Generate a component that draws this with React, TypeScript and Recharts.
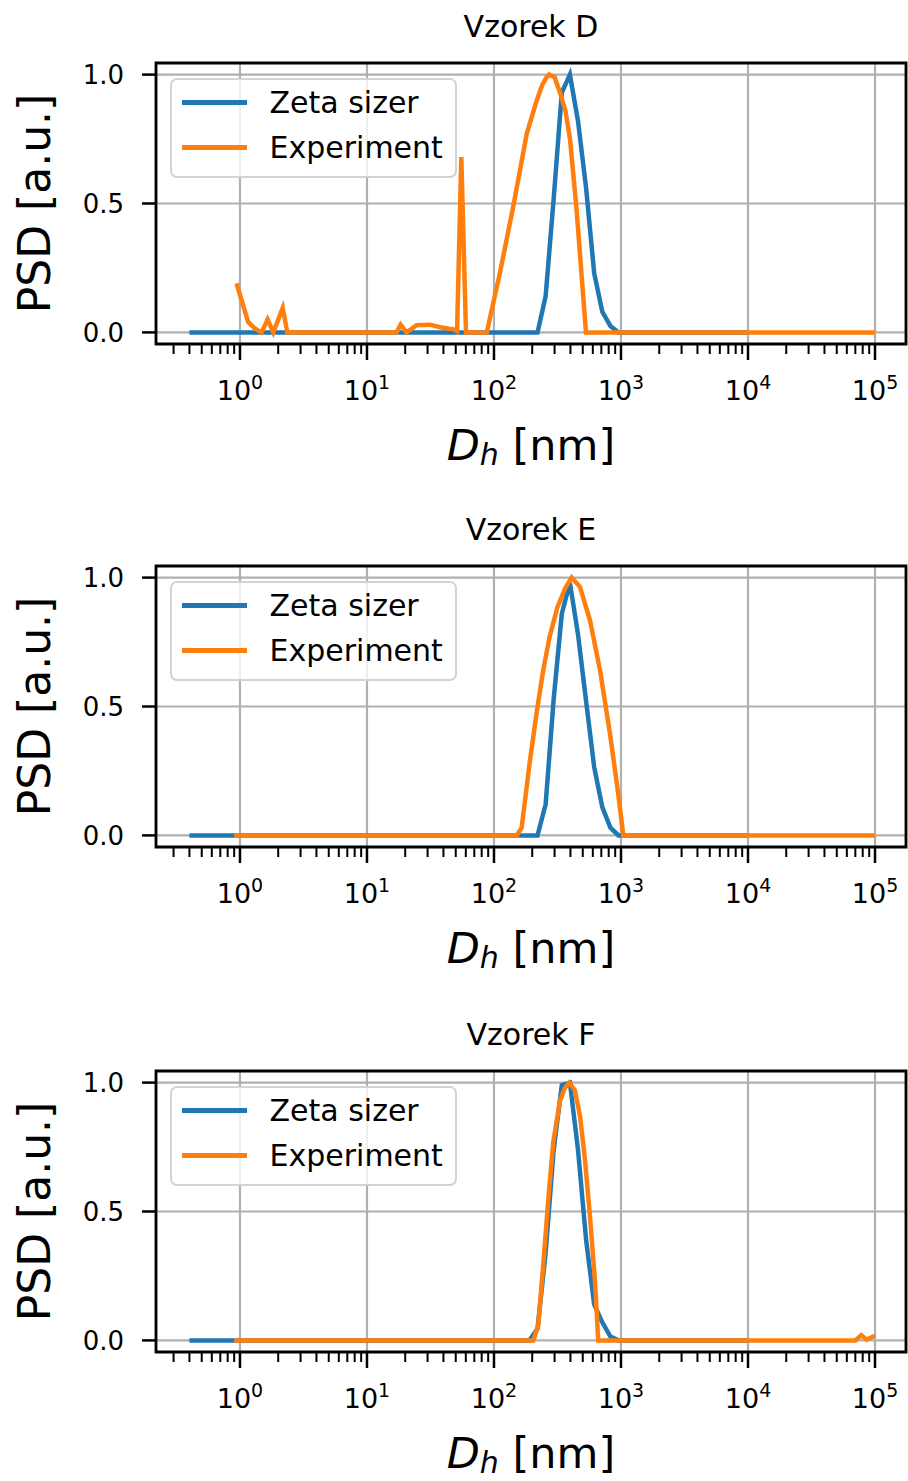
import React from 'react';
import { LineChart, Line, XAxis, YAxis, CartesianGrid, ReferenceArea, Legend, Label } from 'recharts';

const FONT = '"DejaVu Sans", sans-serif';
const BLUE = '#1f77b4';
const ORANGE = '#ff7f0e';

// Zetasizer size classes [nm]
const zetaSizes = [
  0.4, 0.4632, 0.5365, 0.6213, 0.7195, 0.8332, 0.9649, 1.117, 1.294, 1.499,
  1.736, 2.01, 2.328, 2.696, 3.122, 3.615, 4.187, 4.849, 5.615, 6.503,
  7.531, 8.721, 10.1, 11.7, 13.54, 15.69, 18.17, 21.04, 24.36, 28.21,
  32.67, 37.84, 43.82, 50.75, 58.77, 68.06, 78.82, 91.28, 105.7, 122.4,
  141.8, 164.2, 190.1, 220.2, 255.0, 295.3, 342.0, 396.1, 458.7, 531.2,
  615.1, 712.4, 825.0, 955.4, 1106, 1281, 1484, 1718, 1990, 2305,
  2669, 3091, 3580, 4145, 4801, 5560, 6439, 7456, 8635, 10000,
];

const zetaD = [
  0, 0, 0, 0, 0, 0, 0, 0, 0, 0,
  0, 0, 0, 0, 0, 0, 0, 0, 0, 0,
  0, 0, 0, 0, 0, 0, 0, 0, 0, 0,
  0, 0, 0, 0, 0, 0, 0, 0, 0, 0,
  0, 0, 0, 0, 0.14, 0.52, 0.93, 1.0, 0.82, 0.56,
  0.23, 0.08, 0.025, 0, 0, 0, 0, 0, 0, 0,
  0, 0, 0, 0, 0, 0, 0, 0, 0, 0,
];
const zetaE = [
  0, 0, 0, 0, 0, 0, 0, 0, 0, 0,
  0, 0, 0, 0, 0, 0, 0, 0, 0, 0,
  0, 0, 0, 0, 0, 0, 0, 0, 0, 0,
  0, 0, 0, 0, 0, 0, 0, 0, 0, 0,
  0, 0, 0, 0, 0.12, 0.53, 0.86, 0.98, 0.78, 0.52,
  0.265, 0.11, 0.03, 0, 0, 0, 0, 0, 0, 0,
  0, 0, 0, 0, 0, 0, 0, 0, 0, 0,
];
const zetaF = [
  0, 0, 0, 0, 0, 0, 0, 0, 0, 0,
  0, 0, 0, 0, 0, 0, 0, 0, 0, 0,
  0, 0, 0, 0, 0, 0, 0, 0, 0, 0,
  0, 0, 0, 0, 0, 0, 0, 0, 0, 0,
  0, 0, 0, 0.045, 0.34, 0.74, 0.99, 1.0, 0.74, 0.39,
  0.14, 0.07, 0.015, 0, 0, 0, 0, 0, 0, 0,
  0, 0, 0, 0, 0, 0, 0, 0, 0, 0,
];

// Experiment
const expDSize = [0.94, 1.16, 1.31, 1.48, 1.65, 1.83, 2.17, 2.36, 17.1, 18.4, 20.5, 24.6, 31.3, 37.6, 47.8, 51.2, 55.3, 60.2, 87.7, 111, 142, 181, 217, 240, 260, 272, 300, 331, 365, 397, 448, 490, 530, 100000];
const expDValue = [0.19, 0.04, 0.015, 0, 0.05, 0, 0.095, 0, 0, 0.03, 0, 0.028, 0.03, 0.02, 0.012, 0.005, 0.68, 0, 0, 0.227, 0.49, 0.77, 0.9, 0.96, 0.99, 1.0, 0.99, 0.93, 0.86, 0.75, 0.47, 0.22, 0, 0];

const expESize = [0.9, 151, 165, 192, 218, 244, 274, 316, 362, 409, 476, 570, 684, 819, 952, 1043, 100000];
const expEValue = [0, 0, 0.03, 0.29, 0.485, 0.64, 0.77, 0.885, 0.957, 1.0, 0.963, 0.834, 0.64, 0.395, 0.16, 0, 0];

const expFSize = [0.9, 204, 223, 244, 268, 293, 331, 362, 392, 434, 476, 521, 570, 624, 662, 70000, 78000, 86000, 100000];
const expFValue = [0, 0, 0.058, 0.29, 0.55, 0.77, 0.93, 0.98, 1.0, 0.97, 0.87, 0.7, 0.48, 0.23, 0, 0, 0.02, 0.003, 0.018];

const titles = ['Vzorek D', 'Vzorek E', 'Vzorek F'];
const seriesNames = ['Zeta sizer', 'Experiment'];
const majorTicks = [1, 10, 100, 1000, 10000, 100000];
const minorTicks = [
  0.3, 0.4, 0.5, 0.6, 0.7, 0.8, 0.9,
  2, 3, 4, 5, 6, 7, 8, 9,
  20, 30, 40, 50, 60, 70, 80, 90,
  200, 300, 400, 500, 600, 700, 800, 900,
  2000, 3000, 4000, 5000, 6000, 7000, 8000, 9000,
  20000, 30000, 40000, 50000, 60000, 70000, 80000, 90000,
];
const yTicks = [0, 0.5, 1];

const X_DOMAIN: [number, number] = [0.2182, 175400];
const Y_DOMAIN: [number, number] = [-0.045, 1.045];

const PLOT_TOP = 63;
const PLOT_H = 281;
const AXIS_H = 1;
const MAJOR_LEN = 16;
const MINOR_LEN = 9;

const renderMajorTick = (props: any) => {
  const { x, y, payload } = props;
  const exp = Math.round(Math.log10(payload.value));
  return (
    <g>
      <line x1={x} x2={x} y1={y} y2={y + MAJOR_LEN} stroke="#000" strokeWidth={2.5} />
      <text x={x} y={y + 56} textAnchor="middle" fontFamily={FONT} fontSize={27} fill="#000">
        <tspan>10</tspan>
        <tspan dy={-11} fontSize={19}>{exp}</tspan>
      </text>
    </g>
  );
};

const renderMinorTick = (props: any) => {
  const { x, y } = props;
  return <line x1={x} x2={x} y1={y} y2={y + MINOR_LEN} stroke="#000" strokeWidth={2} />;
};

const renderXLabel = (props: any) => {
  const vb = props.viewBox;
  return (
    <text x={vb.x + vb.width / 2} y={vb.y + 116} textAnchor="middle" fontFamily={FONT} fontSize={43} fill="#000">
      <tspan fontStyle="italic">D</tspan>
      <tspan fontStyle="italic" fontSize={30} dy={5}>h</tspan>
      <tspan dy={-5}>{' [nm]'}</tspan>
    </text>
  );
};

const renderYLabel = (props: any) => {
  const vb = props.viewBox;
  const cx = 50;
  const cy = vb.y + vb.height / 2;
  return (
    <text x={cx} y={cy} textAnchor="middle" fontFamily={FONT} fontSize={44} fill="#000" transform={`rotate(-90 ${cx} ${cy})`}>
      PSD [a.u.]
    </text>
  );
};

const LegendBox = () => (
  <div
    style={{
      width: 287,
      height: 100,
      boxSizing: 'border-box',
      border: '2.5px solid #d3d3d3',
      borderRadius: 7,
      background: 'rgba(255,255,255,0.8)',
      fontFamily: FONT,
    }}
  >
    {seriesNames.map((name, i) => (
      <div key={name} style={{ height: 45, display: 'flex', alignItems: 'center' }}>
        <div style={{ marginLeft: 9.5, width: 65, height: 4.5, background: i === 0 ? BLUE : ORANGE }} />
        <div style={{ marginLeft: 23, fontSize: 30, lineHeight: '45px', color: '#000', whiteSpace: 'nowrap' }}>{name}</div>
      </div>
    ))}
  </div>
);

function Panel({ title, zeta, expX, expY, top, height }: any) {
  const zetaData = zetaSizes.map((x, i) => ({ x, y: zeta[i] }));
  const expData = expX.map((x: number, i: number) => ({ x, y: expY[i] }));
  return (
    <div style={{ position: 'absolute', left: 0, top, width: 908, height }}>
      <LineChart
        width={908}
        height={height}
        margin={{ top: PLOT_TOP, right: 2, bottom: height - PLOT_TOP - PLOT_H - 2 * AXIS_H, left: 0 }}
      >
        <CartesianGrid stroke="#b0b0b0" strokeWidth={2.2} />
        <XAxis
          dataKey="x"
          type="number"
          scale="log"
          domain={X_DOMAIN}
          allowDataOverflow
          ticks={majorTicks}
          interval={0}
          height={AXIS_H}
          axisLine={false}
          tickSize={0}
          tickMargin={0}
          tickLine={false}
          tick={renderMajorTick}
        >
          <Label content={renderXLabel} />
        </XAxis>
        <XAxis
          xAxisId="minor"
          dataKey="x"
          type="number"
          scale="log"
          domain={X_DOMAIN}
          allowDataOverflow
          ticks={minorTicks}
          interval={0}
          height={AXIS_H}
          axisLine={false}
          tickSize={0}
          tickMargin={0}
          tickLine={false}
          tick={renderMinorTick}
        />
        <YAxis
          type="number"
          domain={Y_DOMAIN}
          allowDataOverflow
          ticks={yTicks}
          interval={0}
          width={156}
          axisLine={false}
          tickSize={14}
          tickMargin={18}
          tickLine={{ stroke: '#000', strokeWidth: 2.5 }}
          tickFormatter={(v: number) => v.toFixed(1)}
          tick={{ fontSize: 26, fill: '#000', fontFamily: FONT }}
        >
          <Label content={renderYLabel} />
        </YAxis>
        <Line data={zetaData} dataKey="y" type="linear" stroke={BLUE} strokeWidth={4.5} dot={false} isAnimationActive={false} name={seriesNames[0]} />
        <Line data={expData} dataKey="y" type="linear" stroke={ORANGE} strokeWidth={4.5} dot={false} isAnimationActive={false} name={seriesNames[1]} />
        <ReferenceArea
          x1={X_DOMAIN[0]}
          x2={X_DOMAIN[1]}
          y1={Y_DOMAIN[0]}
          y2={Y_DOMAIN[1]}
          fill="none"
          fillOpacity={0}
          stroke="#000"
          strokeWidth={2.8}
          ifOverflow="visible"
          label={(p: any) => (
            <text x={p.viewBox.x + p.viewBox.width / 2} y={p.viewBox.y - 26} textAnchor="middle" fontFamily={FONT} fontSize={30} fill="#000">
              {title}
            </text>
          )}
        />
        <Legend
          layout="horizontal"
          verticalAlign="middle"
          align="center"
          wrapperStyle={{ position: 'absolute', left: 170, top: PLOT_TOP + 15, width: 'auto', height: 'auto' }}
          content={() => <LegendBox />}
        />
      </LineChart>
    </div>
  );
}

export default function App() {
  return (
    <div style={{ position: 'absolute', left: 0, top: 0, width: 908, height: 1481, background: '#fff', overflow: 'hidden' }}>
      <Panel title={titles[0]} zeta={zetaD} expX={expDSize} expY={expDValue} top={0} height={503} />
      <Panel title={titles[1]} zeta={zetaE} expX={expESize} expY={expEValue} top={503} height={505} />
      <Panel title={titles[2]} zeta={zetaF} expX={expFSize} expY={expFValue} top={1008} height={473} />
    </div>
  );
}
